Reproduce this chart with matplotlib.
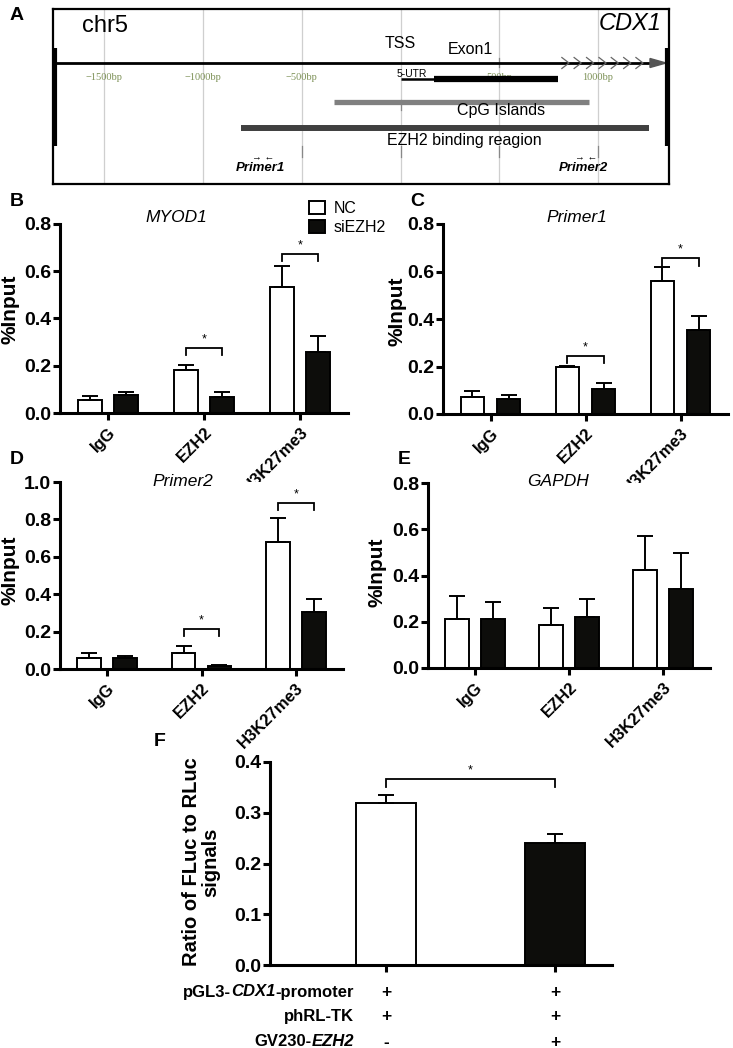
import numpy as np
import matplotlib
matplotlib.use("Agg")
import matplotlib.pyplot as plt

plt.rcParams['font.family'] = ['Liberation Sans', 'DejaVu Sans']

W, H = 733, 1048

# ---------------- data ----------------
# Panel A gene map (positions in bp relative to TSS)
map_grid_bp = [-1500, -1000, -500, 0, 500, 1000]
map_grid_labels = ['\u22121500bp', '\u22121000bp', '\u2212500bp', '', '500bp', '1000bp']
utr_bp = [0, 170]
exon_bp = [170, 797]
cpg_bp = [-337, 954]
ezh2_bp = [-808, 1258]
primer_bp = [-711, 924]
primer_names = ['Primer1', 'Primer2']
chevron_bp = [835, 897, 960, 1023, 1085, 1148, 1210]

groups = ['IgG', 'EZH2', 'H3K27me3']
series = ['NC', 'siEZH2']

# Panel B - MYOD1
b_nc = [0.055, 0.180, 0.535]
b_nc_err = [0.015, 0.025, 0.087]
b_si = [0.075, 0.068, 0.260]
b_si_err = [0.015, 0.022, 0.065]
b_sig = [(1, 0.275), (2, 0.672)]

# Panel C - Primer1
c_nc = [0.073, 0.200, 0.560]
c_nc_err = [0.022, 0.003, 0.058]
c_si = [0.065, 0.107, 0.355]
c_si_err = [0.013, 0.023, 0.058]
c_sig = [(1, 0.245), (2, 0.655)]

# Panel D - Primer2
d_nc = [0.060, 0.084, 0.680]
d_nc_err = [0.024, 0.041, 0.126]
d_si = [0.057, 0.016, 0.303]
d_si_err = [0.012, 0.003, 0.070]
d_sig = [(1, 0.214), (2, 0.888)]

# Panel E - GAPDH
e_nc = [0.210, 0.186, 0.424]
e_nc_err = [0.103, 0.072, 0.147]
e_si = [0.213, 0.222, 0.342]
e_si_err = [0.074, 0.076, 0.157]

# Panel F - luciferase
f_vals = [0.320, 0.240]
f_err = [0.015, 0.018]
f_sig = (0.366,)
f_rows = [[('pGL3-', False), ('CDX1', True), ('-promoter', False)],
          [('phRL-TK', False)],
          [('GV230-', False), ('EZH2', True)]]
f_signs = [['+', '+'], ['+', '+'], ['-', '+']]

# ---------------- helpers ----------------
fig = plt.figure(figsize=(W / 100, H / 100), dpi=100)


def rect(l, t, r, b):
    return [l / W, 1 - b / H, (r - l) / W, (b - t) / H]


def ftext(x, y, s, **kw):
    return fig.text(x / W, 1 - y / H, s, **kw)


def style_axes(ax):
    for sp in ['top', 'right']:
        ax.spines[sp].set_visible(False)
    for sp in ['left', 'bottom']:
        ax.spines[sp].set_linewidth(2.2)
    ax.tick_params(axis='both', width=2.2, length=5, direction='out')
    ax.tick_params(axis='y', pad=1.5)
    for lab in ax.get_yticklabels():
        lab.set_fontweight('bold')
        lab.set_fontsize(14)


def bracket(ax, x1, x2, y, drop):
    ax.plot([x1, x1, x2, x2], [y - drop, y, y, y - drop], color='black', lw=1.3,
            solid_joinstyle='miter', clip_on=False)
    ax.annotate('*', xy=((x1 + x2) / 2, y), xytext=(0, 2), textcoords='offset points',
                ha='center', va='bottom', fontsize=9)


def bar_panel(rpx, ytop, ystep, nc, nc_err, si, si_err, sig, drop):
    ax = fig.add_axes(rect(*rpx))
    x = np.arange(len(groups))
    off, w = 0.19, 0.25
    z = np.zeros(len(groups))
    ekw = dict(lw=1.4, capthick=1.4, ecolor='black')
    h1 = ax.bar(x - off, nc, w, color='white', edgecolor='black', lw=1.4,
                yerr=[z, nc_err], capsize=5.5, error_kw=ekw, label=series[0])
    h2 = ax.bar(x + off, si, w, color='#0d0d0b', edgecolor='black', lw=1.4,
                yerr=[z, si_err], capsize=5.5, error_kw=ekw, label=series[1])
    ax.set_xlim(-0.5, 2.5)
    ax.set_ylim(0, ytop)
    ax.set_yticks(np.arange(0, ytop + 1e-9, ystep))
    ax.set_yticklabels(['%.1f' % v for v in np.arange(0, ytop + 1e-9, ystep)])
    ax.set_xticks(x)
    ax.set_xticklabels(groups, rotation=45, ha='right', va='top',
                       rotation_mode='anchor', fontweight='bold', fontsize=12)
    style_axes(ax)
    for g, yv in sig:
        bracket(ax, g - off, g + off, yv, drop)
    return ax, h1, h2


# ---------------- Panel A ----------------
axA = fig.add_axes(rect(53, 9, 669, 184))
px_per_bp = 0.1975
x0px = 400.5
axA.set_xlim((53 - x0px) / px_per_bp, (669 - x0px) / px_per_bp)
axA.set_ylim(184, 9)
axA.set_xticks([])
axA.set_yticks([])
for sp in axA.spines.values():
    sp.set_linewidth(1.6)

for g, lab in zip(map_grid_bp, map_grid_labels):
    axA.plot([g, g], [9, 184], color='#cfcfcf', lw=0.9, zorder=1)
    if lab:
        axA.text(g, 78, lab, ha='center', va='center', fontsize=7.5, color='#7d9157',
                 family=['Liberation Serif', 'DejaVu Serif'], zorder=2)
# small darker ticks
for g in [-500, 0, 500, 1000]:
    axA.plot([g, g], [146, 157], color='#888888', lw=0.9, zorder=2)
axA.plot([0, 0], [100, 110], color='#888888', lw=0.9, zorder=2)
axA.plot([500, 500], [58, 67], color='#888888', lw=0.9, zorder=2)

left_bp = (55 - x0px) / px_per_bp
right_bp = (667 - x0px) / px_per_bp
tip_bp = (666 - x0px) / px_per_bp
base_bp = (650 - x0px) / px_per_bp
axA.plot([left_bp, base_bp], [63, 63], color='black', lw=2.0, zorder=4)
axA.fill([base_bp, tip_bp, base_bp], [58.5, 63, 67.5], color='#555555', zorder=4)
for cx in chevron_bp:
    axA.plot([cx - 18, cx + 18, cx - 18], [57.5, 63, 68.5], color='#666666', lw=0.9, zorder=4)
axA.plot([left_bp, left_bp], [48, 146], color='black', lw=3, zorder=5, solid_capstyle='butt')
axA.plot([right_bp, right_bp], [48, 146], color='black', lw=3, zorder=5, solid_capstyle='butt')

axA.plot(utr_bp, [79, 79], color='black', lw=1.8, zorder=3, solid_capstyle='butt')
axA.plot(exon_bp, [79, 79], color='black', lw=4.5, zorder=3, solid_capstyle='butt')
axA.plot(cpg_bp, [102, 102], color='#808080', lw=3.8, zorder=3, solid_capstyle='butt')
axA.plot(ezh2_bp, [128, 128], color='#404040', lw=4.3, zorder=3, solid_capstyle='butt')

axA.text((105 - x0px) / px_per_bp, 26, 'chr5', ha='center', va='center', fontsize=17)
axA.text((630 - x0px) / px_per_bp, 23, 'CDX1', ha='center', va='center', fontsize=17,
         fontstyle='italic')
axA.text(0, 43, 'TSS', ha='center', va='center', fontsize=11.5)
axA.text((470 - x0px) / px_per_bp, 50, 'Exon1', ha='center', va='center', fontsize=11.5)
axA.text(utr_bp[0] - 20, 74, '5-UTR', ha='left', va='center', fontsize=7.5)
axA.text((cpg_bp[0] + cpg_bp[1]) / 2 + 200, 110.5, 'CpG Islands', ha='center', va='center',
         fontsize=11.5)
axA.text((ezh2_bp[0] + ezh2_bp[1]) / 2 + 100, 141, 'EZH2 binding reagion', ha='center',
         va='center', fontsize=11.5)
for p, nm in zip(primer_bp, primer_names):
    axA.text(p, 168, nm, ha='center', va='center', fontsize=9.5, fontweight='bold',
             fontstyle='italic')
    axA.text(p + 15, 157, '\u2192 \u2190', ha='center', va='center', fontsize=7)

ftext(17, 15, 'A', ha='center', va='center', fontsize=14, fontweight='bold')

# ---------------- Panels B-E ----------------
axB, hB1, hB2 = bar_panel((60, 224, 348, 413), 0.8, 0.2, b_nc, b_nc_err, b_si, b_si_err, b_sig, 0.03)
axC, _, _ = bar_panel((443, 224, 728, 414), 0.8, 0.2, c_nc, c_nc_err, c_si, c_si_err, c_sig, 0.03)
axD, _, _ = bar_panel((60, 482, 343, 669), 1.0, 0.2, d_nc, d_nc_err, d_si, d_si_err, d_sig, 0.037)
axE, _, _ = bar_panel((428, 483, 710, 668), 0.8, 0.2, e_nc, e_nc_err, e_si, e_si_err, [], 0.03)

axB.legend([hB1, hB2], series, loc='upper left', bbox_to_anchor=(309 / W, 1 - 201 / H),
           bbox_transform=fig.transFigure, frameon=False, fontsize=11.5, handlelength=1.0,
           handleheight=0.8, handletextpad=0.55, borderpad=0, borderaxespad=0,
           labelspacing=0.25)

for s, (x, y) in zip('BCDE', [(17, 202), (417, 202), (17, 459), (404, 459)]):
    ftext(x, y, s, ha='center', va='center', fontsize=14, fontweight='bold')
for s, (x, y) in zip(['MYOD1', 'Primer1', 'Primer2', 'GAPDH'],
                     [(176, 218), (577, 218), (183, 482), (558, 482)]):
    ftext(x, y, s, ha='center', va='center', fontsize=12.5, fontstyle='italic')
for (x, y) in [(10, 309), (397, 311), (10, 570), (377, 572)]:
    ftext(x, y, '%Input', ha='center', va='center', rotation=90, fontsize=15,
          fontweight='bold')

# ---------------- Panel F ----------------
axF = fig.add_axes(rect(270, 762, 612, 965))
xf = np.arange(2)
ekwF = dict(lw=1.4, capthick=1.4, ecolor='black')
axF.bar(xf[0], f_vals[0], 0.355, color='white', edgecolor='black', lw=1.4,
        yerr=[[0], [f_err[0]]], capsize=6, error_kw=ekwF)
axF.bar(xf[1], f_vals[1], 0.355, color='#0d0d0b', edgecolor='black', lw=1.4,
        yerr=[[0], [f_err[1]]], capsize=6, error_kw=ekwF)
axF.set_xlim(-0.686, 1.337)
axF.set_ylim(0, 0.4)
axF.set_yticks(np.arange(0, 0.41, 0.1))
axF.set_yticklabels(['%.1f' % v for v in np.arange(0, 0.41, 0.1)])
axF.set_xticks(xf)
axF.set_xticklabels(['', ''])
style_axes(axF)
bracket(axF, 0, 1, f_sig[0], 0.016)

ftext(160, 742, 'F', ha='center', va='center', fontsize=14, fontweight='bold')
ftext(201, 862, 'Ratio of FLuc to RLuc\nsignals', ha='center', va='center', rotation=90,
      fontsize=14.5, fontweight='bold', linespacing=1.0)

renderer = fig.canvas.get_renderer()
row_y = [992, 1017, 1042]
for parts, yv, signs in zip(f_rows, row_y, f_signs):
    xr = 354 / W
    for txt, it in reversed(parts):
        t = fig.text(xr, 1 - yv / H, txt, ha='right', va='center', fontsize=12,
                     fontweight='bold', fontstyle='italic' if it else 'normal')
        bb = t.get_window_extent(renderer)
        xr = bb.x0 / fig.bbox.width
    for xi, sgn in zip(xf, signs):
        xd = axF.transData.transform((xi, 0))[0] / fig.bbox.width
        fig.text(xd, 1 - yv / H, sgn, ha='center', va='center', fontsize=12.5,
                 fontweight='bold')

fig.savefig('out.png', dpi=100)
